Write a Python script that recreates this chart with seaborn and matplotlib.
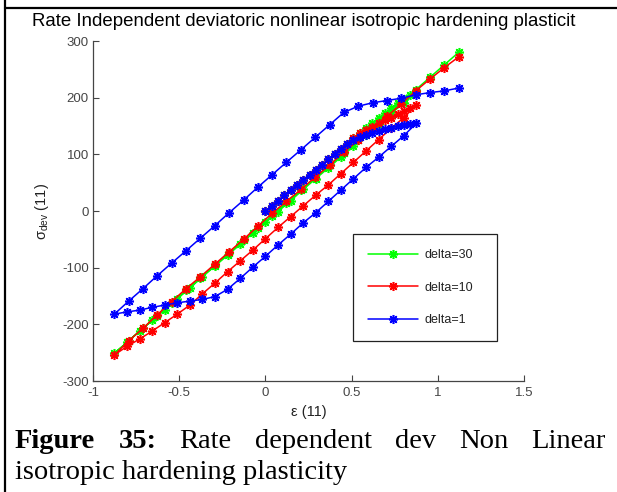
import matplotlib
matplotlib.use("Agg")
import matplotlib.pyplot as plt
import pandas as pd
import seaborn as sns
from matplotlib.lines import Line2D

sns.set_theme(style="white")
plt.rcParams["font.family"] = ["Liberation Sans", "DejaVu Sans"]
plt.rcParams["mathtext.fontset"] = "custom"
plt.rcParams["mathtext.rm"] = "Liberation Sans"
plt.rcParams["mathtext.it"] = "Liberation Sans"

# ---- strain path: load, unload, reload -------------------------------------
strain_load = [0.000, 0.037, 0.073, 0.110, 0.146, 0.183, 0.219, 0.256, 0.292,
               0.329, 0.365, 0.402, 0.438, 0.475, 0.511, 0.548, 0.584, 0.621,
               0.657, 0.694, 0.730, 0.767, 0.803, 0.840, 0.876]
strain_unload = [0.803, 0.730, 0.657, 0.584, 0.511, 0.438, 0.365, 0.292,
                 0.219, 0.146, 0.073, 0.000, -0.073, -0.146, -0.219, -0.292,
                 -0.365, -0.438, -0.511, -0.584, -0.657, -0.730, -0.803, -0.876]
strain_reload = [-0.793, -0.710, -0.627, -0.544, -0.460, -0.377, -0.294,
                 -0.210, -0.127, -0.044, 0.039, 0.122, 0.206, 0.289, 0.372,
                 0.455, 0.539, 0.622, 0.705, 0.788, 0.872, 0.955, 1.038, 1.121]

# ---- deviatoric stress for each rate parameter -----------------------------
stress_d30_load = [0, 9, 18, 28, 37, 46, 55, 64, 73, 82, 91, 101, 110, 119,
                   128, 137, 146, 155, 164, 173, 182, 190, 197, 204, 210]
stress_d30_unload = [191, 172, 153, 134, 114, 95, 76, 57, 38, 18, -1, -20,
                     -39, -59, -78, -97, -116, -136, -155, -174, -193, -212,
                     -232, -251]
stress_d30_reload = [-229, -207, -185, -162, -140, -118, -96, -74, -52, -30,
                     -8, 15, 37, 59, 81, 103, 125, 147, 170, 192, 214, 236,
                     258, 280]

stress_d10_load = [0, 9, 18, 28, 37, 46, 55, 64, 73, 82, 91, 101, 110, 119,
                   128, 137, 143, 149, 155, 160, 165, 171, 176, 182, 187]
stress_d10_unload = [165, 146, 126, 106, 86, 66, 46, 28, 9, -10, -29, -49,
                     -69, -88, -107, -127, -146, -166, -182, -197, -212, -226,
                     -239, -254]
stress_d10_reload = [-229, -207, -183, -160, -137, -116, -94, -72, -50, -27,
                     -4, 17, 38, 60, 81, 104, 125, 146, 167, 189, 212, 233,
                     253, 272]

stress_d1_load = [0, 9, 18, 28, 37, 46, 55, 64, 73, 82, 91, 101, 110, 119,
                  125, 130, 134, 138, 141, 144, 147, 150, 152, 154, 155]
stress_d1_unload = [133, 114, 95, 77, 57, 37, 17, -3, -21, -41, -60, -80,
                    -99, -119, -138, -151, -156, -159, -162, -166, -170, -175,
                    -178, -182]
stress_d1_reload = [-159, -137, -114, -92, -70, -48, -26, -3, 19, 42, 64, 86,
                    108, 130, 152, 174, 185, 191, 195, 199, 205, 209, 212,
                    217]

labels = ["delta=30", "delta=10", "delta=1"]
colors = ["#00ff00", "#ff0000", "#0000ff"]

strain_path = strain_load + strain_unload + strain_reload
frames = []
for lab, ld, ul, rl in zip(
        labels,
        [stress_d30_load, stress_d10_load, stress_d1_load],
        [stress_d30_unload, stress_d10_unload, stress_d1_unload],
        [stress_d30_reload, stress_d10_reload, stress_d1_reload]):
    stress = ld + ul + rl
    frames.append(pd.DataFrame({"step": range(len(stress)),
                                "strain": strain_path,
                                "stress": stress,
                                "delta": lab}))
df = pd.concat(frames, ignore_index=True)

# ---- figure ----------------------------------------------------------------
W, H = 617, 492
fig = plt.figure(figsize=(W / 100, H / 100), dpi=100)
fig.patch.set_facecolor("white")
ax = fig.add_axes([93 / W, 1 - 381 / H, (524 - 93) / W, (381 - 41) / H])
ax.set_facecolor("white")

asterisk = (8, 2, 0)
sns.lineplot(data=df, x="strain", y="stress", hue="delta",
             hue_order=labels, palette=dict(zip(labels, colors)),
             sort=False, estimator=None, units="delta", legend=False,
             marker=asterisk, markersize=6.5, linewidth=1.1, ax=ax)
for ln in ax.get_lines():
    ln.set_markeredgecolor(ln.get_color())
    ln.set_markeredgewidth(1.15)

ax.set_xlim(-1, 1.5)
ax.set_ylim(-300, 300)
ax.set_xticks([-1, -0.5, 0, 0.5, 1, 1.5])
ax.set_xticklabels(["-1", "-0.5", "0", "0.5", "1", "1.5"])
ax.set_yticks([-300, -200, -100, 0, 100, 200, 300])
ax.set_yticklabels(["-300", "-200", "-100", "0", "100", "200", "300"])
axis_grey = "#454545"
ax.tick_params(direction="in", length=4, width=0.8, colors=axis_grey,
               labelsize=9.5, pad=3, left=True, bottom=True)
ax.tick_params(axis="x", pad=4.5)
for side in ("top", "right"):
    ax.spines[side].set_visible(False)
for side in ("left", "bottom"):
    ax.spines[side].set_color(axis_grey)
    ax.spines[side].set_linewidth(0.9)

ax.set_xlabel("ε (11)", fontsize=10.5, color="#222222", labelpad=4)
ax.set_ylabel(r"$\sigma_{dev}$ (11)", fontsize=10.5, color="#222222",
              labelpad=8)

leg = ax.legend(handles=ax.get_lines(), labels=labels, loc="upper left",
                bbox_to_anchor=(0.604, 0.0, 0.334, 0.4315), mode="expand",
                borderaxespad=0, frameon=True, fancybox=False, shadow=False,
                fontsize=9, handlelength=4.0, handletextpad=0.5,
                labelspacing=1.63, borderpad=1.2, numpoints=1)
leg.get_frame().set_edgecolor("#222222")
leg.get_frame().set_linewidth(0.9)
leg.get_frame().set_alpha(1)
for t in leg.get_texts():
    t.set_color("#222222")

fig.text(304 / W, 1 - 22 / H,
         "Rate Independent deviatoric nonlinear isotropic hardening plasticit",
         ha="center", va="center", fontsize=13.4, color="black")

# frame lines of the surrounding table cell
fig.add_artist(Line2D([5 / W, 1], [1 - 8 / H, 1 - 8 / H], color="black",
                      lw=1.6, transform=fig.transFigure))
fig.add_artist(Line2D([5 / W, 5 / W], [0, 1], color="black", lw=1.6,
                      transform=fig.transFigure))

# justified caption, first line spread from x=15 to x=606
cap_fs = 20.5
line1 = [("Figure", "bold"), ("35:", "bold"), ("Rate", "normal"),
         ("dependent", "normal"), ("dev", "normal"), ("Non", "normal"),
         ("Linear", "normal")]
fig.canvas.draw()
rend = fig.canvas.get_renderer()
texts = []
for word, wt in line1:
    t = fig.text(0, 1 - 448 / H, word, fontsize=cap_fs, fontweight=wt,
                 family="Liberation Serif", ha="left", va="baseline",
                 color="black")
    texts.append(t)
widths = [t.get_window_extent(rend).width for t in texts]
x_left, x_right = 15, 606
gap = (x_right - x_left - sum(widths)) / (len(texts) - 1)
x = x_left
for t, w in zip(texts, widths):
    t.set_x(x / W)
    x += w + gap
fig.text(15 / W, 1 - 479 / H, "isotropic hardening plasticity",
         fontsize=cap_fs, family="Liberation Serif", ha="left",
         va="baseline", color="black")

fig.savefig("out.png", dpi=100, facecolor="white")
